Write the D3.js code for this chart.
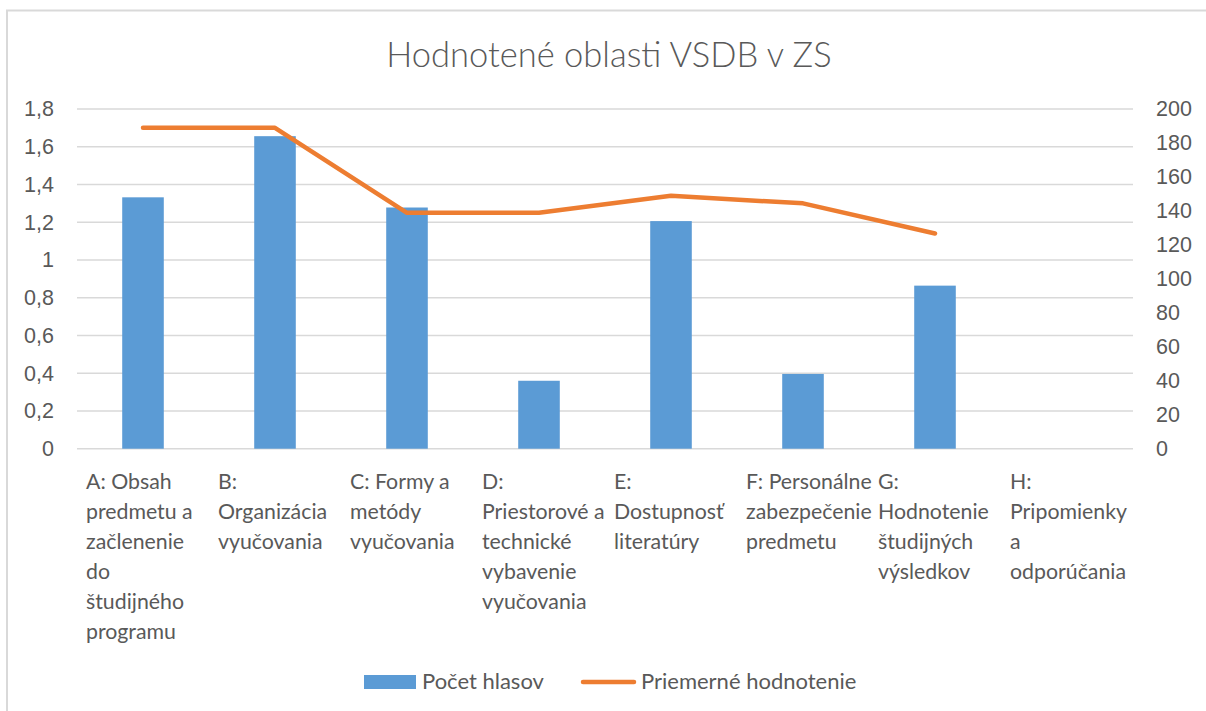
<!DOCTYPE html>
<html>
<head>
<meta charset="utf-8">
<script src="https://cdn.jsdelivr.net/npm/d3@7"></script>
<style>
  body { margin: 0; background: #fff; }
  svg { font-family: Lato, "Open Sans", sans-serif; }
</style>
</head>
<body>
<svg id="chart" width="1206" height="711"></svg>
<script>
// categories, split into lines the way they wrap under the axis
var categories = ["A", "B", "C", "D", "E", "F", "G", "H"];
var categoryLines = [
  ["A: Obsah", "predmetu a", "začlenenie", "do", "študijného", "programu"],
  ["B:", "Organizácia", "vyučovania"],
  ["C: Formy a", "metódy", "vyučovania"],
  ["D:", "Priestorové a", "technické", "vybavenie", "vyučovania"],
  ["E:", "Dostupnosť", "literatúry"],
  ["F: Personálne", "zabezpečenie", "predmetu"],
  ["G:", "Hodnotenie", "študijných", "výsledkov"],
  ["H:", "Pripomienky", "a", "odporúčania"]
];
// Počet hlasov (right axis)
var votes = [148, 184, 142, 40, 134, 44, 96, 0];
// Priemerné hodnotenie (left axis)
var rating = [1.7, 1.7, 1.25, 1.25, 1.34, 1.3, 1.14, null];

var leftTicks = [0, 0.2, 0.4, 0.6, 0.8, 1, 1.2, 1.4, 1.6, 1.8];
var rightTicks = [0, 20, 40, 60, 80, 100, 120, 140, 160, 180, 200];

var title = "Hodnotené oblasti VSDB v ZS";
var seriesNames = ["Počet hlasov", "Priemerné hodnotenie"];

var textColor = "#595959",
    gridColor = "#d9d9d9",
    barColor = "#5b9bd5",
    lineColor = "#ed7d31";

var svg = d3.select("#chart");

// plot area
var plot = {left: 77, right: 1133, top: 109, bottom: 448.7};

var x = d3.scaleBand()
    .domain(categories)
    .range([plot.left, plot.right]);

var yL = d3.scaleLinear().domain([0, 1.8]).range([plot.bottom, plot.top]);
var yR = d3.scaleLinear().domain([0, 200]).range([plot.bottom, plot.top]);

// chart border (cropped at right/bottom)
svg.append("path")
    .attr("d", "M7,711 V10.5 H1206")
    .attr("fill", "none")
    .attr("stroke", gridColor)
    .attr("stroke-width", 2);

// title
svg.append("text")
    .attr("x", 609)
    .attr("y", 67)
    .attr("text-anchor", "middle")
    .attr("font-size", 34.5)
    .attr("font-weight", 300)
    .attr("fill", textColor)
    .text(title);

// gridlines
svg.append("g")
  .selectAll("line")
  .data(leftTicks)
  .join("line")
    .attr("x1", plot.left)
    .attr("x2", plot.right)
    .attr("y1", d => yL(d))
    .attr("y2", d => yL(d))
    .attr("stroke", gridColor)
    .attr("stroke-width", 1.5);

var commaFmt = d => String(d).replace(".", ",");

// left axis
var gl = svg.append("g")
    .attr("transform", "translate(" + plot.left + ",0)")
    .call(d3.axisLeft(yL).tickValues(leftTicks).tickFormat(commaFmt).tickSize(0).tickPadding(23));
gl.select(".domain").remove();
gl.selectAll("text").attr("font-size", 21.5).attr("fill", textColor).attr("font-family", null);

// right axis
var gr = svg.append("g")
    .attr("transform", "translate(" + plot.right + ",0)")
    .call(d3.axisRight(yR).tickValues(rightTicks).tickSize(0).tickPadding(23));
gr.select(".domain").remove();
gr.selectAll("text").attr("font-size", 21.5).attr("fill", textColor).attr("font-family", null);

// bars
var barW = x.bandwidth() * 0.315;
svg.append("g")
  .selectAll("rect")
  .data(categories)
  .join("rect")
    .attr("x", d => x(d) + x.bandwidth() / 2 - barW / 2)
    .attr("y", (d, i) => yR(votes[i]))
    .attr("width", barW)
    .attr("height", (d, i) => plot.bottom - yR(votes[i]))
    .attr("fill", barColor);

// line
var line = d3.line()
    .defined(d => d[1] != null)
    .x(d => x(d[0]) + x.bandwidth() / 2)
    .y(d => yL(d[1]));

svg.append("path")
    .datum(categories.map((c, i) => [c, rating[i]]))
    .attr("fill", "none")
    .attr("stroke", lineColor)
    .attr("stroke-width", 4.5)
    .attr("stroke-linejoin", "round")
    .attr("stroke-linecap", "round")
    .attr("d", line);

// category labels
var cat = svg.append("g")
  .selectAll("text")
  .data(categories)
  .join("text")
    .attr("font-size", 21.3)
    .attr("fill", textColor);
cat.each(function(d, i) {
  d3.select(this).selectAll("tspan")
    .data(categoryLines[i])
    .join("tspan")
      .attr("x", x(d) + 9)
      .attr("y", (t, j) => 489 + j * 30)
      .text(t => t);
});

// legend
var lg = svg.append("g");
lg.append("rect")
    .attr("x", 364).attr("y", 675)
    .attr("width", 52).attr("height", 14)
    .attr("fill", barColor);
lg.append("text")
    .attr("x", 422).attr("y", 689)
    .attr("font-size", 22).attr("fill", textColor)
    .text(seriesNames[0]);
lg.append("line")
    .attr("x1", 583).attr("x2", 634)
    .attr("y1", 682).attr("y2", 682)
    .attr("stroke", lineColor).attr("stroke-width", 4.5)
    .attr("stroke-linecap", "round");
lg.append("text")
    .attr("x", 641).attr("y", 689)
    .attr("font-size", 22).attr("fill", textColor)
    .text(seriesNames[1]);
</script>
</body>
</html>
